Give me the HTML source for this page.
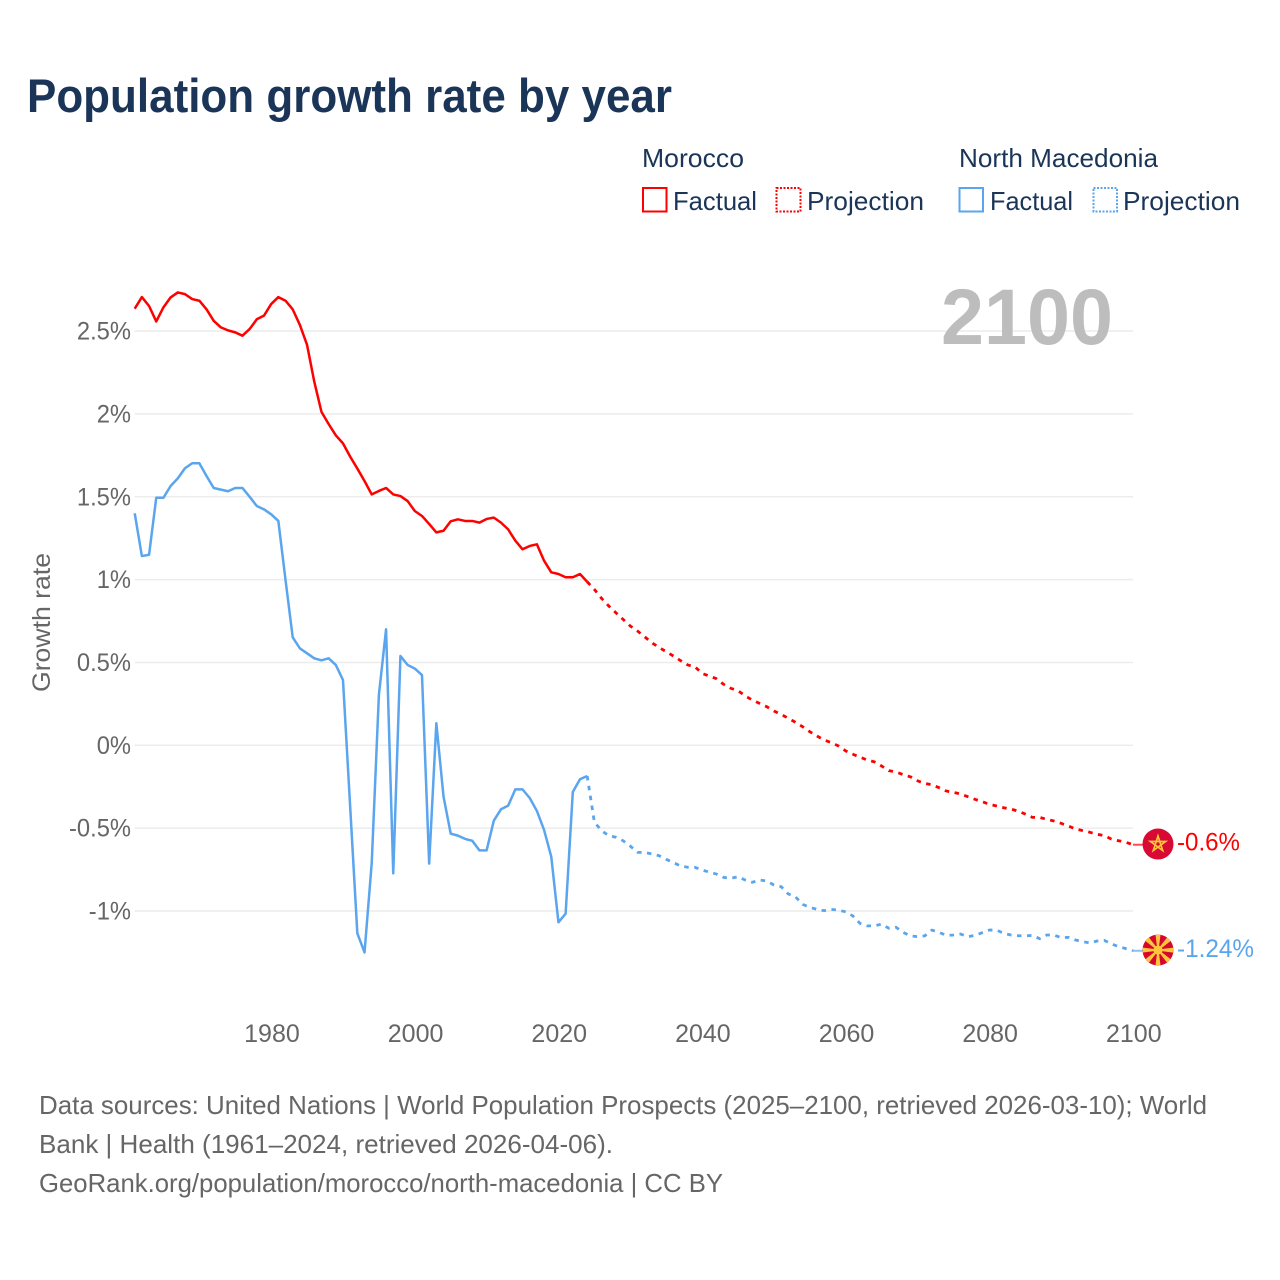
<!DOCTYPE html>
<html lang="en">
<head>
<meta charset="utf-8">
<title>Population growth rate by year</title>
<style>
  html, body { margin: 0; padding: 0; background: #fff; }
  svg { display: block; font-family: "Liberation Sans", sans-serif; }
</style>
</head>
<body>
<svg id="chart" xmlns="http://www.w3.org/2000/svg" width="1280" height="1280" viewBox="0 0 1280 1280">
  <rect x="0" y="0" width="1280" height="1280" fill="#ffffff"/>
  <text x="27" y="112" font-size="47" font-weight="700" fill="#1a3557" textLength="645" lengthAdjust="spacingAndGlyphs">Population growth rate by year</text>

  <g font-size="26" fill="#1a3557">
    <text x="642" y="167" textLength="102" lengthAdjust="spacingAndGlyphs">Morocco</text>
    <text x="959" y="167" textLength="199" lengthAdjust="spacingAndGlyphs">North Macedonia</text>
    <rect x="643" y="188" width="23.500" height="23.500" fill="none" stroke="#ff0000" stroke-width="2"/>
    <text x="673" y="210" textLength="84" lengthAdjust="spacingAndGlyphs">Factual</text>
    <rect x="776.500" y="188" width="24" height="23.500" fill="none" stroke="#ff0000" stroke-width="2" stroke-dasharray="2 1.500"/>
    <text x="807" y="210" textLength="117" lengthAdjust="spacingAndGlyphs">Projection</text>
    <rect x="959.500" y="188" width="23.500" height="23.500" fill="none" stroke="#5aa5ee" stroke-width="2"/>
    <text x="990" y="210" textLength="83" lengthAdjust="spacingAndGlyphs">Factual</text>
    <rect x="1093.500" y="188" width="23.500" height="23.500" fill="none" stroke="#5aa5ee" stroke-width="2" stroke-dasharray="2 1.500"/>
    <text x="1123" y="210" textLength="117" lengthAdjust="spacingAndGlyphs">Projection</text>
  </g>

  <g id="grid"></g>
  <text x="941" y="344" font-size="79" font-weight="700" fill="#bdbdbd" textLength="172" lengthAdjust="spacingAndGlyphs">2100</text>
  <g id="y-ticks" font-size="25" fill="#666666" text-anchor="end"></g>
  <g id="x-ticks" font-size="25" fill="#666666" text-anchor="middle"></g>
  <text transform="translate(50 622.500) rotate(-90)" font-size="25" fill="#666666" text-anchor="middle" textLength="139" lengthAdjust="spacingAndGlyphs">Growth rate</text>
  <g id="series"></g>
  <g id="end-markers"></g>

  <g font-size="26" fill="#666666">
    <text x="39" y="1114" textLength="1168" lengthAdjust="spacingAndGlyphs">Data sources: United Nations | World Population Prospects (2025–2100, retrieved 2026-03-10); World</text>
    <text x="39" y="1153" textLength="574" lengthAdjust="spacingAndGlyphs">Bank | Health (1961–2024, retrieved 2026-04-06).</text>
    <text x="39" y="1192" textLength="684" lengthAdjust="spacingAndGlyphs">GeoRank.org/population/morocco/north-macedonia | CC BY</text>
  </g>
</svg>
<script>
const factualStartYear = 1961;
const projectionStartYear = 2024;
const yTickValues = [2.5, 2, 1.5, 1, 0.5, 0, -0.5, -1];
const yTickLabels = ['2.5%', '2%', '1.5%', '1%', '0.5%', '0%', '-0.5%', '-1%'];
const xTickValues = [1980, 2000, 2020, 2040, 2060, 2080, 2100];
const xTickLabels = ['1980', '2000', '2020', '2040', '2060', '2080', '2100'];

const moroccoFactual = [
  2.635, 2.705, 2.651, 2.558, 2.643, 2.703, 2.733, 2.723, 2.693, 2.683,
  2.631, 2.562, 2.522, 2.504, 2.492, 2.472, 2.512, 2.571, 2.593, 2.663,
  2.705, 2.683, 2.631, 2.537, 2.416, 2.195, 2.013, 1.939, 1.871, 1.822,
  1.742, 1.67, 1.595, 1.514, 1.535, 1.553, 1.514, 1.504, 1.474, 1.414,
  1.384, 1.336, 1.285, 1.295, 1.352, 1.364, 1.354, 1.354, 1.344, 1.366,
  1.374, 1.344, 1.303, 1.235, 1.183, 1.203, 1.213, 1.114, 1.044, 1.034,
  1.014, 1.014, 1.034, 0.987
];
const moroccoProjection = [
  0.987, 0.941, 0.887, 0.841, 0.80, 0.76, 0.72, 0.69, 0.655, 0.619,
  0.591, 0.565, 0.539, 0.511, 0.485, 0.474, 0.434, 0.418, 0.402, 0.368,
  0.344, 0.33, 0.298, 0.273, 0.253, 0.233, 0.207, 0.187, 0.163, 0.139,
  0.112, 0.082, 0.056, 0.032, 0.016, -0.004, -0.034, -0.054, -0.072, -0.089,
  -0.10, -0.125, -0.153, -0.161, -0.177, -0.19, -0.214, -0.23, -0.238, -0.256,
  -0.276, -0.284, -0.294, -0.31, -0.326, -0.34, -0.356, -0.366, -0.377, -0.385,
  -0.397, -0.415, -0.435, -0.435, -0.447, -0.457, -0.471, -0.487, -0.505, -0.515,
  -0.525, -0.537, -0.545, -0.566, -0.576, -0.585, -0.6
];
const macedoniaFactual = [
  1.40, 1.142, 1.15, 1.494, 1.494, 1.565, 1.611, 1.672, 1.702, 1.702,
  1.625, 1.553, 1.543, 1.533, 1.553, 1.553, 1.50, 1.444, 1.424, 1.394,
  1.354, 0.998, 0.652, 0.585, 0.555, 0.525, 0.513, 0.525, 0.485, 0.394,
  -0.37, -1.135, -1.25, -0.712, 0.304, 0.70, -0.773, 0.539, 0.485, 0.463,
  0.424, -0.714, 0.133, -0.31, -0.533, -0.545, -0.565, -0.576, -0.634, -0.634,
  -0.455, -0.386, -0.364, -0.266, -0.266, -0.318, -0.396, -0.511, -0.672, -1.068,
  -1.016, -0.282, -0.205, -0.185
];
const macedoniaProjection = [
  -0.185, -0.463, -0.515, -0.545, -0.555, -0.576, -0.608, -0.646, -0.646, -0.656,
  -0.666, -0.688, -0.708, -0.728, -0.736, -0.736, -0.753, -0.765, -0.777, -0.797,
  -0.803, -0.793, -0.813, -0.827, -0.813, -0.819, -0.843, -0.853, -0.897, -0.914,
  -0.96, -0.978, -0.99, -0.998, -0.99, -0.995, -1.005, -1.03, -1.075, -1.09,
  -1.09, -1.079, -1.104, -1.098, -1.129, -1.15, -1.155, -1.15, -1.115, -1.129,
  -1.147, -1.145, -1.139, -1.155, -1.147, -1.131, -1.115, -1.115, -1.135, -1.145,
  -1.149, -1.15, -1.147, -1.167, -1.145, -1.145, -1.161, -1.159, -1.175, -1.185,
  -1.193, -1.181, -1.177, -1.199, -1.215, -1.227, -1.24
];
const moroccoEndLabel = '-0.6%';
const macedoniaEndLabel = '-1.24%';

const SVG_NS = 'http://www.w3.org/2000/svg';
const RED = '#ff0000';
const BLUE = '#5aa5ee';
function xScale(year) { return 134.7 + (year - 1961) * 7.182; }
function yScale(value) { return 745.3 - value * 165.7; }
function make(tag, parent) {
  const el = document.createElementNS(SVG_NS, tag);
  parent.appendChild(el);
  return el;
}
function pathFor(values, startYear) {
  return values.map(function (v, i) {
    return (i ? 'L' : 'M') + xScale(startYear + i).toFixed(2) + ' ' + yScale(v).toFixed(2);
  }).join(' ');
}

const gridGroup = document.getElementById('grid');
const yTickGroup = document.getElementById('y-ticks');
yTickValues.forEach(function (v, i) {
  const line = make('line', gridGroup);
  
  
  line.setAttribute('x1', xScale(1961));
  line.setAttribute('x2', xScale(2100));
  line.setAttribute('y1', yScale(v));
  line.setAttribute('y2', yScale(v));
  line.setAttribute('stroke', '#ececec');
  line.setAttribute('stroke-width', '1.5');
  const label = make('text', yTickGroup);
  
  
  label.setAttribute('x', 131);
  label.setAttribute('y', yScale(v) + 8.5);
  label.textContent = yTickLabels[i];
  label.setAttribute('textLength', (label.getComputedTextLength() * 0.95).toFixed(1));
  label.setAttribute('lengthAdjust', 'spacingAndGlyphs');
});

const xTickGroup = document.getElementById('x-ticks');
xTickValues.forEach(function (v, i) {
  const label = make('text', xTickGroup);
  
  
  label.setAttribute('x', xScale(v) + 0.8);
  label.setAttribute('y', 1042);
  label.textContent = xTickLabels[i];
});

const seriesGroup = document.getElementById('series');
function drawLine(name, values, startYear, color, dashed) {
  const p = make('path', seriesGroup);
  
  
  p.setAttribute('d', pathFor(values, startYear));
  p.setAttribute('fill', 'none');
  p.setAttribute('stroke', color);
  p.setAttribute('stroke-width', dashed ? '2.8' : '2.5');
  p.setAttribute('stroke-linejoin', 'round');
  if (dashed) p.setAttribute('stroke-dasharray', '4.5 5.5');
}
drawLine('line-north-macedonia-factual', macedoniaFactual, factualStartYear, BLUE, false);
drawLine('line-north-macedonia-projection', macedoniaProjection, projectionStartYear, BLUE, true);
drawLine('line-morocco-factual', moroccoFactual, factualStartYear, RED, false);
drawLine('line-morocco-projection', moroccoProjection, projectionStartYear, RED, true);

const markerGroup = document.getElementById('end-markers');
const flagX = xScale(2100) + 25;
function drawConnector(name, y, color) {
  const c = make('line', markerGroup);
  
  
  c.setAttribute('x1', xScale(2100));
  c.setAttribute('x2', flagX - 14);
  c.setAttribute('y1', y);
  c.setAttribute('y2', y);
  c.setAttribute('stroke', color);
  c.setAttribute('stroke-width', '2');
  c.setAttribute('stroke-opacity', '0.7');
}
function drawEndLabel(name, text, y, color, width) {
  const t = make('text', markerGroup);
  
  
  t.setAttribute('x', 1177);
  t.setAttribute('y', y + 6);
  t.setAttribute('font-size', '25');
  t.setAttribute('fill', color);
  t.setAttribute('textLength', width);
  t.setAttribute('lengthAdjust', 'spacingAndGlyphs');
  t.textContent = text;
}

const moroccoY = yScale(moroccoProjection[moroccoProjection.length - 1]);
drawConnector('connector-morocco', moroccoY, RED);
const moroccoFlag = make('g', markerGroup);


moroccoFlag.setAttribute('transform', 'translate(' + flagX + ' ' + (moroccoY - 0.7) + ')');
const moroccoDisc = make('circle', moroccoFlag);
moroccoDisc.setAttribute('r', '15.5');
moroccoDisc.setAttribute('fill', '#d80a33');
const moroccoStar = make('polygon', moroccoFlag);
moroccoStar.setAttribute('points', '0,-8 4.7,6.5 -7.6,-2.5 7.6,-2.500 -4.7,6.5');
moroccoStar.setAttribute('fill', 'none');
moroccoStar.setAttribute('stroke', '#fdc63a');
moroccoStar.setAttribute('stroke-width', '1.7');
drawEndLabel('end-label-morocco', moroccoEndLabel, moroccoY, RED, 63);

const macedoniaY = yScale(macedoniaProjection[macedoniaProjection.length - 1]);
drawConnector('connector-north-macedonia', macedoniaY, BLUE);
const macedoniaFlag = make('g', markerGroup);


macedoniaFlag.setAttribute('transform', 'translate(' + flagX + ' ' + (macedoniaY - 0.7) + ')');
const macedoniaDisc = make('circle', macedoniaFlag);
macedoniaDisc.setAttribute('r', '15.5');
macedoniaDisc.setAttribute('fill', '#d6062f');
for (let a = 0; a < 360; a += 45) {
  const ray = make('polygon', macedoniaFlag);
  ray.setAttribute('points', '-0.6,0 0.6,0 2.5,-15.3 -2.5,-15.3');
  ray.setAttribute('fill', '#fdc63a');
  ray.setAttribute('transform', 'rotate(' + a + ')');
}
const macedoniaSun = make('circle', macedoniaFlag);
macedoniaSun.setAttribute('r', '4.5');
macedoniaSun.setAttribute('fill', '#fdc63a');
drawEndLabel('end-label-north-macedonia', macedoniaEndLabel, macedoniaY, BLUE, 77);
</script>
</body>
</html>
